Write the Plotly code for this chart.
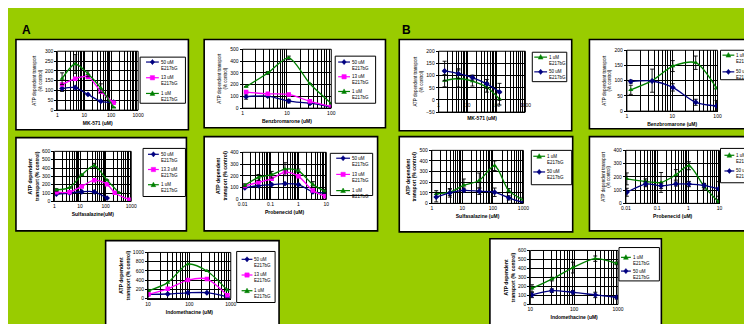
import math
import plotly.graph_objects as go

W, H = 752, 324
BG = "#99CC00"
BLUE = "#000080"
PINK = "#FF00FF"
GREEN = "#008000"
FONT = "Liberation Sans, Arial, sans-serif"

# ---------------- data ----------------
# Panel A1 : MK-571
a1_x = [1.5, 4.6, 13.7, 41, 123]
a1_50 = [110, 115, 80, 45, 40]
a1_50e = [15, 0, 0, 0, 0]
a1_13 = [130, 160, 170, 95, 38]
a1_13e = [0, 0, 10, 10, 0]
a1_1 = [160, 235, 185, 112, 14]
a1_1e = [30, 48, 15, 22, 0]

# Panel A2 : Benzbromarone
a2_x = [1.2, 3.7, 11, 33, 100]
a2_50 = [98, 103, 60, 42, 10]
a2_50e = [22, 10, 15, 10, 0]
a2_13 = [137, 122, 117, 58, 14]
a2_13e = [0, 0, 0, 0, 0]
a2_1 = [182, 299, 427, 207, 40]
a2_1e = [0, 12, 15, 0, 0]

# Panel A3 : Sulfasalazine
a3_x50 = [1.2, 3.9, 11.7, 36, 114]
a3_50 = [88, 100, 116, 115, 40]
a3_x13 = [1.2, 3.9, 11.7, 36, 114, 227, 860]
a3_13 = [110, 110, 180, 255, 205, 105, 20]
a3_x1 = [1.2, 3.9, 11.7, 36, 114, 333]
a3_1 = [138, 165, 318, 428, 255, 105]
a3_1e = [15, 0, 0, 28, 0, 0]

# Panel A4 : Probenecid
a4_x = [0.012, 0.037, 0.11, 0.33, 1, 3.3, 9]
a4_50 = [98, 117, 126, 134, 126, 64, 56]
a4_13 = [115, 145, 176, 232, 196, 75, 28]
a4_1 = [120, 187, 210, 257, 243, 126, 70]
a4_1e = [12, 25, 28, 55, 15, 25, 15]

# Panel A5 : Indomethacine
a5_x = [10.3, 30, 92, 265, 830]
a5_50 = [92, 99, 125, 127, 35]
a5_13 = [92, 211, 401, 423, 70]
a5_1 = [169, 345, 746, 599, 183]

# Panel B1 : MK-571
b1_x = [1.6, 4.8, 14.7, 46, 127]
b1_1 = [79, 88, 77, 52, 4]
b1_1e = [25, 35, 20, 20, 25]
b1_50 = [119, 108, 92, 66, 33]
b1_50e = [40, 20, 10, 18, 35]

# Panel B2 : Benzbromarone
b2_x = [1.22, 3.6, 10.3, 33, 95]
b2_1 = [70, 100, 148, 159, 75]
b2_1e = [15, 38, 18, 22, 0]
b2_50 = [97, 99, 78, 29, 17]
b2_50e = [5, 0, 12, 10, 18]

# Panel B3 : Sulfasalazine
b3_x = [1.4, 3.9, 11.2, 36, 114, 330, 1000]
b3_1 = [90, 105, 170, 216, 355, 120, 31]
b3_1e = [30, 30, 60, 70, 45, 20, 25]
b3_50 = [59, 99, 123, 114, 105, 52, 6]
b3_50e = [45, 40, 20, 30, 40, 20, 10]

# Panel B4 : Probenecid
b4_x = [0.0107, 0.043, 0.134, 0.4, 1.05, 3.2, 9.3]
b4_1 = [185, 165, 158, 215, 284, 128, 10]
b4_1e = [45, 20, 75, 40, 30, 20, 20]
b4_50 = [84, 146, 133, 146, 146, 136, 109]
b4_50e = [30, 20, 20, 15, 20, 15, 55]

# Panel B5 : Indomethacine
b5_x = [10.9, 31, 94, 303, 930]
b5_1 = [179, 282, 410, 509, 457]
b5_1e = [40, 20, 60, 30, 15]
b5_50 = [106, 154, 135, 106, 80]
b5_50e = [30, 20, 20, 30, 20]

L50 = ["50 uM", "E217bG"]
L13 = ["13 uM", "E217bG"]
L133 = ["13.3 uM", "E217bG"]
L1 = ["1 uM", "E217bG"]

S50 = dict(color=BLUE, symbol="diamond")
S13 = dict(color=PINK, symbol="square")
S1 = dict(color=GREEN, symbol="triangle-up")

YT1 = "ATP dependent transport<br>(% control)"
YT2 = "ATP dependent<br>transport (% control)"

panels = [
    dict(key="A1", xt="MK-571 (uM)", yt=YT1, ybold=False, xr=(0, 3), yr=(-0, 300), dy=50,
         series=[(L50, S50, a1_x, a1_50, a1_50e), (L13, S13, a1_x, a1_13, a1_13e), (L1, S1, a1_x, a1_1, a1_1e)]),
    dict(key="A2", xt="Benzbromarone (uM)", yt=YT1, ybold=False, xr=(0, 2), yr=(0, 500), dy=100,
         series=[(L50, S50, a2_x, a2_50, a2_50e), (L13, S13, a2_x, a2_13, a2_13e), (L1, S1, a2_x, a2_1, a2_1e)]),
    dict(key="A3", xt="Sulfasalazine(uM)", yt=YT2, ybold=True, xr=(0, 3), yr=(0, 600), dy=100,
         series=[(L50, S50, a3_x50, a3_50, None), (L133, S13, a3_x13, a3_13, None), (L1, S1, a3_x1, a3_1, a3_1e)]),
    dict(key="A4", xt="Probenecid (uM)", yt=YT2, ybold=True, xr=(-2, 1), yr=(0, 400), dy=100,
         series=[(L50, S50, a4_x, a4_50, None), (L13, S13, a4_x, a4_13, None), (L1, S1, a4_x, a4_1, a4_1e)]),
    dict(key="A5", xt="Indomethacine (uM)", yt=YT2, ybold=True, xr=(1, 3), yr=(0, 1000), dy=200,
         series=[(L50, S50, a5_x, a5_50, None), (L13, S13, a5_x, a5_13, None), (L1, S1, a5_x, a5_1, None)]),
    dict(key="B1", xt="MK-571 (uM)", yt=YT1, ybold=False, xr=(0, 3), yr=(-50, 200), dy=50,
         series=[(L1, S1, b1_x, b1_1, b1_1e), (L50, S50, b1_x, b1_50, b1_50e)]),
    dict(key="B2", xt="Benzbromarone (uM)", yt=YT1, ybold=False, xr=(0, 2), yr=(0, 200), dy=50,
         series=[(L1, S1, b2_x, b2_1, b2_1e), (L50, S50, b2_x, b2_50, b2_50e)]),
    dict(key="B3", xt="Sulfasalazine (uM)", yt=YT2, ybold=True, xr=(0, 3), yr=(0, 500), dy=100,
         series=[(L1, S1, b3_x, b3_1, b3_1e), (L50, S50, b3_x, b3_50, b3_50e)]),
    dict(key="B4", xt="Probenecid (uM)", yt=YT1, ybold=False, xr=(-2, 1), yr=(0, 400), dy=100,
         series=[(L1, S1, b4_x, b4_1, b4_1e), (L50, S50, b4_x, b4_50, b4_50e)]),
    dict(key="B5", xt="Indomethacine (uM)", yt=YT2, ybold=True, xr=(1, 3), yr=(0, 600), dy=100,
         series=[(L1, S1, b5_x, b5_1, b5_1e), (L50, S50, b5_x, b5_50, b5_50e)]),
]

# ---------------- layout geometry (pixels) ----------------
geom = {
    "A1": dict(plot=(45, 41, 127, 101), box=(3, 29, 178, 121), leg=(129, 47, 175, 94), ly=52, lsp=16, sw=(135, 148), tx=149),
    "A2": dict(plot=(233, 39, 323, 99), box=(194, 29, 378, 119), leg=(327, 46, 368, 94), ly=52, lsp=15, sw=(330, 342), tx=343),
    "A3": dict(plot=(42, 143, 120, 194), box=(3, 129, 176, 224), leg=(132, 140, 175, 189), ly=146, lsp=15.5, sw=(137, 148), tx=149),
    "A4": dict(plot=(233, 144, 318, 192), box=(194, 128, 370, 224), leg=(322, 145, 365, 188), ly=150, lsp=16.5, sw=(328, 342), tx=343),
    "A5": dict(plot=(137, 246, 221, 293), box=(94, 234, 270, 330), leg=(227, 245, 266, 297), ly=253, lsp=16, sw=(232, 243), tx=244),
    "B1": dict(plot=(432, 41, 520, 103), box=(392, 29, 567, 122), leg=(527, 42, 562, 72), ly=47, lsp=15, sw=(529, 542), tx=543),
    "B2": dict(plot=(623, 40, 715, 102), box=(585, 29, 762, 120), leg=(718, 40, 762, 70), ly=45, lsp=17, sw=(720, 732), tx=733),
    "B3": dict(plot=(425, 142, 518, 196), box=(392, 128, 568, 225), leg=(526, 142, 567, 177), ly=148, lsp=16, sw=(528, 540), tx=541),
    "B4": dict(plot=(622, 142, 717, 196), box=(585, 128, 762, 224), leg=(718, 140, 762, 175), ly=147, lsp=16, sw=(722, 732), tx=733),
    "B5": dict(plot=(525, 244, 614, 299), box=(484, 232, 658, 330), leg=(615, 241, 656, 275), ly=251, lsp=14, sw=(617, 627), tx=628),
}


def fx(px):
    return px / W


def fy(py):
    return 1 - py / H


def fmt(v):
    if v >= 1:
        return str(int(round(v)))
    return ("%f" % v).rstrip("0")


def log_grid(lo, hi):
    vals, text = [], []
    for k in range(lo, hi):
        for m in range(1, 10):
            v = m * 10 ** k
            vals.append(v)
            text.append(fmt(v) if m == 1 else "")
    vals.append(10 ** hi)
    text.append(fmt(10 ** hi))
    return vals, text


def marker_path(sym, cx, cy, r=2.2):
    if sym == "diamond":
        pts = [(cx, cy - r * 1.2), (cx + r, cy), (cx, cy + r * 1.2), (cx - r, cy)]
    elif sym == "square":
        pts = [(cx - r, cy - r), (cx + r, cy - r), (cx + r, cy + r), (cx - r, cy + r)]
    else:
        pts = [(cx, cy - r * 1.2), (cx + r * 1.1, cy + r * 0.9), (cx - r * 1.1, cy + r * 0.9)]
    d = "M " + " L ".join("%.5f,%.5f" % (fx(a), fy(b)) for a, b in pts) + " Z"
    return d


fig = go.Figure()
layout = dict(
    width=W, height=H, margin=dict(l=0, r=0, t=0, b=0),
    paper_bgcolor=BG, plot_bgcolor="white", showlegend=False,
    font=dict(family=FONT, size=5, color="black"),
)
shapes = []
annotations = []

# white panels
for p in panels:
    x0, y0, x1, y1 = geom[p["key"]]["box"]
    shapes.append(dict(type="rect", xref="paper", yref="paper", x0=fx(x0), x1=fx(x1), y0=fy(y1), y1=fy(y0),
                       line=dict(color="black", width=1.6), fillcolor="white", layer="below"))

for i, p in enumerate(panels, start=1):
    g = geom[p["key"]]
    sfx = "" if i == 1 else str(i)
    xa, ya = "xaxis" + sfx, "yaxis" + sfx
    xr, yr = "x" + sfx, "y" + sfx
    px0, py0, px1, py1 = g["plot"]
    xdom = [fx(px0), fx(px1)]
    ydom = [fy(py1), fy(py0)]
    tv, tt = log_grid(*p["xr"])
    xax = dict(type="log", domain=xdom, anchor=yr, range=list(p["xr"]), tickvals=tv, ticktext=tt,
               showgrid=True, gridcolor="black", gridwidth=1, showline=True, linecolor="black", linewidth=1,
               ticks="", tickfont=dict(size=5, family=FONT), fixedrange=True,
               title=dict(text="<b>%s</b>" % p["xt"], font=dict(size=5, family=FONT), standoff=4))
    if p["yr"][0] < 0:
        # Excel puts the value labels under the y=0 crossing
        xax.update(showticklabels=False)
        for v, t in zip(tv, tt):
            if t:
                annotations.append(dict(xref=xr, yref=yr, x=math.log10(v), y=0, xanchor="center",
                                        yanchor="top", yshift=-1, showarrow=False, text=t, borderpad=0,
                                        font=dict(size=5, family=FONT, color="black")))
    layout[xa] = xax
    ytxt = "<b>%s</b>" % p["yt"] if p["ybold"] else p["yt"]
    layout[ya] = dict(domain=ydom, anchor=xr, range=list(p["yr"]), dtick=p["dy"], tick0=0,
                      showgrid=True, gridcolor="black", gridwidth=1, zeroline=False,
                      showline=True, linecolor="black", linewidth=1, ticks="outside", ticklen=2,
                      tickcolor="black", tickfont=dict(size=5, family=FONT), fixedrange=True,
                      title=dict(text=ytxt, font=dict(size=5 if p["ybold"] else 4.5, family=FONT), standoff=2))
    shapes.append(dict(type="rect", xref=xr + " domain", yref=yr + " domain", x0=0, x1=1, y0=0, y1=1,
                       line=dict(color="black", width=1), layer="above"))

    for name, st, xs, ys, es in p["series"]:
        tr = dict(x=xs, y=ys, mode="lines+markers", xaxis=xr, yaxis=yr,
                  line=dict(color=st["color"], width=1.3, shape="spline", smoothing=0.8),
                  marker=dict(color=st["color"], symbol=st["symbol"], size=4.5),
                  name=" ".join(name), hoverinfo="x+y+name")
        if es is not None:
            tr["error_y"] = dict(type="data", array=es, color="black", thickness=0.9, width=2)
        fig.add_trace(go.Scatter(**tr))

    # legend box
    lx0, ly0, lx1, ly1 = g["leg"]
    shapes.append(dict(type="rect", xref="paper", yref="paper", x0=fx(lx0), x1=fx(lx1), y0=fy(ly1), y1=fy(ly0),
                       line=dict(color="black", width=1), fillcolor="white", layer="above"))
    for j, (name, st, xs, ys, es) in enumerate(p["series"]):
        cy = g["ly"] + j * g["lsp"]
        s0, s1 = g["sw"]
        shapes.append(dict(type="line", xref="paper", yref="paper", x0=fx(s0), x1=fx(s1), y0=fy(cy), y1=fy(cy),
                           line=dict(color=st["color"], width=1.2), layer="above"))
        shapes.append(dict(type="path", xref="paper", yref="paper", path=marker_path(st["symbol"], (s0 + s1) / 2, cy),
                           fillcolor=st["color"], line=dict(color=st["color"], width=0.5), layer="above"))
        annotations.append(dict(xref="paper", yref="paper", x=fx(g["tx"]), y=fy(cy - 3.6), xanchor="left",
                                yanchor="top", showarrow=False, align="left", borderpad=0,
                                text="<br>".join(name), font=dict(size=4.5, family=FONT, color="black")))

annotations.append(dict(xref="paper", yref="paper", x=fx(7), y=fy(10), xanchor="left", yanchor="top",
                        showarrow=False, text="<b>A</b>", font=dict(size=12, family=FONT, color="black")))
annotations.append(dict(xref="paper", yref="paper", x=fx(393), y=fy(10), xanchor="left", yanchor="top",
                        showarrow=False, text="<b>B</b>", font=dict(size=12, family=FONT, color="black")))

layout["shapes"] = shapes
layout["annotations"] = annotations
fig.update_layout(**layout)
fig.write_html("out.html")
